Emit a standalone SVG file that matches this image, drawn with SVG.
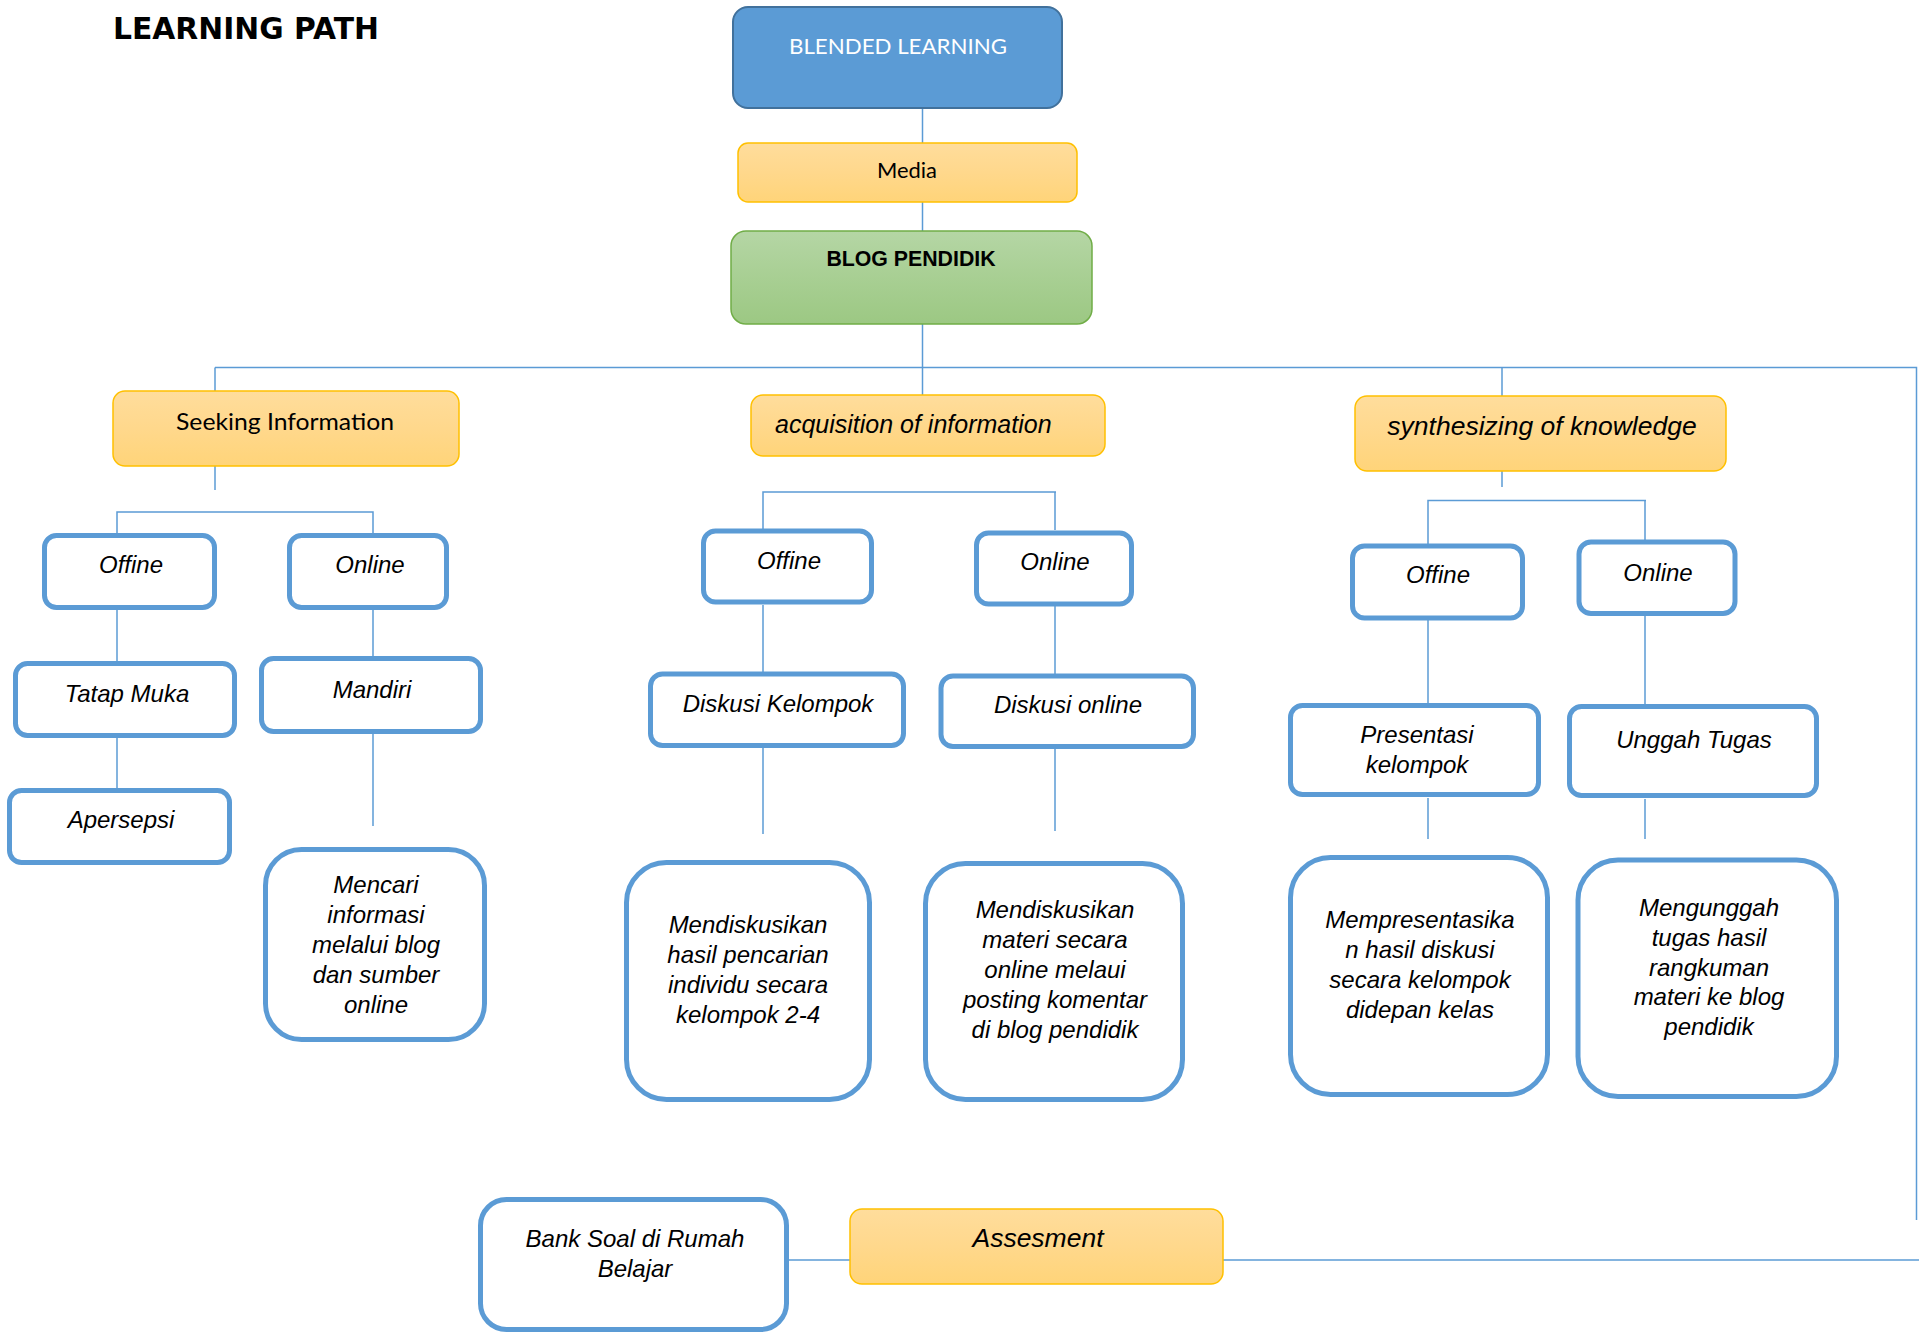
<svg xmlns="http://www.w3.org/2000/svg" width="1928" height="1333" viewBox="0 0 1928 1333">
<defs>
<linearGradient id="gOr" x1="0" y1="0" x2="0" y2="1">
<stop offset="0" stop-color="#FFDD9C"/>
<stop offset="0.5" stop-color="#FFD88C"/>
<stop offset="1" stop-color="#FFD479"/>
</linearGradient>
<linearGradient id="gGr" x1="0" y1="0" x2="0" y2="1">
<stop offset="0" stop-color="#B5D6A5"/>
<stop offset="0.5" stop-color="#A8CF93"/>
<stop offset="1" stop-color="#9CC883"/>
</linearGradient>
<style>
.conn{fill:none;stroke:#5B9BD5;stroke-width:1.5}
.bx{fill:#FFFFFF;stroke:#5B9BD5;stroke-width:5}
.or{fill:url(#gOr);stroke:#FFC000;stroke-width:1.5}
.it{font-family:"Liberation Sans",Arial,sans-serif;font-style:italic;font-size:24px;fill:#000;text-anchor:middle}
.cal{font-family:Lato,"Open Sans",sans-serif;fill:#000;text-anchor:middle}
</style>
</defs>
<rect width="1928" height="1333" fill="#FFFFFF"/>
<text x="113" y="38.5" font-family="'DejaVu Sans',Verdana,sans-serif" font-weight="bold" font-size="30" fill="#000" textLength="266" lengthAdjust="spacingAndGlyphs">LEARNING PATH</text>
<g id="connectors">
<path class="conn" d="M922.5,108 V143"/>
<path class="conn" d="M922.5,202 V231"/>
<path class="conn" d="M922.5,324 V367.5"/>
<path class="conn" d="M215,367.5 H1916.5 V1220"/>
<path class="conn" d="M215,367.5 V391"/>
<path class="conn" d="M922.5,367.5 V395"/>
<path class="conn" d="M1502,367.5 V396"/>
<path class="conn" d="M215,466 V490"/>
<path class="conn" d="M117,533 V512 H373 V533"/>
<path class="conn" d="M117,610 V661"/>
<path class="conn" d="M117,738 V788"/>
<path class="conn" d="M373,610 V656"/>
<path class="conn" d="M373,734 V826"/>
<path class="conn" d="M763,529 V492 H1056 M1055,492 V530"/>
<path class="conn" d="M763,605 V672"/>
<path class="conn" d="M763,748 V834"/>
<path class="conn" d="M1055,606 V674"/>
<path class="conn" d="M1055,749 V831"/>
<path class="conn" d="M1502,471 V487"/>
<path class="conn" d="M1428,545 V500.5 H1646 M1645,500.5 V541"/>
<path class="conn" d="M1428,620 V705"/>
<path class="conn" d="M1428,798 V839"/>
<path class="conn" d="M1645,616 V706"/>
<path class="conn" d="M1645,799 V839"/>
<path class="conn" d="M789,1260 H1919"/>
</g>
<g id="blended-learning">
<rect x="733" y="7" width="329" height="101" rx="15" fill="#5B9BD5" stroke="#41719C" stroke-width="2"/>
<text class="cal" x="898" y="54" font-size="22" fill="#FFFFFF" style="fill:#FFFFFF" textLength="218" lengthAdjust="spacingAndGlyphs">BLENDED LEARNING</text>
</g>
<g id="media">
<rect class="or" x="738" y="143" width="339" height="59" rx="10"/>
<text class="cal" x="907" y="178" font-size="22" textLength="60" lengthAdjust="spacingAndGlyphs">Media</text>
</g>
<g id="blog-pendidik">
<rect x="731" y="231" width="361" height="93" rx="15" fill="url(#gGr)" stroke="#70AD47" stroke-width="1.5"/>
<text x="911" y="266" font-family="'Liberation Sans',Arial,sans-serif" font-weight="bold" font-size="21.3" text-anchor="middle" fill="#000">BLOG PENDIDIK</text>
</g>
<g id="seeking-information">
<rect class="or" x="113" y="391" width="346" height="75" rx="12"/>
<text class="cal" x="285" y="430" font-size="24" textLength="218" lengthAdjust="spacingAndGlyphs">Seeking Information</text>
</g>
<g id="acquisition-of-information">
<rect class="or" x="751" y="395" width="354" height="61" rx="12"/>
<text class="it" x="775" y="433" font-size="25" style="font-size:25px;text-anchor:start">acquisition of information</text>
</g>
<g id="synthesizing-of-knowledge">
<rect class="or" x="1355" y="396" width="371" height="75" rx="12"/>
<text class="it" x="1542" y="435" style="font-size:26.5px">synthesizing of knowledge</text>
</g>
<g id="offline-1">
<rect class="bx" x="44.5" y="535.5" width="170" height="72" rx="12"/>
<text class="it" x="131" y="573">Offine</text>
</g>
<g id="online-1">
<rect class="bx" x="289.5" y="535.5" width="157" height="72" rx="12"/>
<text class="it" x="370" y="573">Online</text>
</g>
<g id="tatap-muka">
<rect class="bx" x="15.5" y="663.5" width="219" height="72" rx="12"/>
<text class="it" x="127" y="702">Tatap Muka</text>
</g>
<g id="apersepsi">
<rect class="bx" x="9.5" y="790.5" width="220" height="72" rx="12"/>
<text class="it" x="121" y="828">Apersepsi</text>
</g>
<g id="mandiri">
<rect class="bx" x="261.5" y="658.5" width="219" height="73" rx="12"/>
<text class="it" x="372" y="698">Mandiri</text>
</g>
<g id="mencari-informasi">
<rect class="bx" x="265.5" y="849.5" width="219" height="190" rx="36"/>
<text class="it" x="376" y="893">Mencari</text>
<text class="it" x="376" y="923">informasi</text>
<text class="it" x="376" y="953">melalui blog</text>
<text class="it" x="376" y="983">dan sumber</text>
<text class="it" x="376" y="1013">online</text>
</g>
<g id="offline-2">
<rect class="bx" x="703.5" y="531" width="168" height="71" rx="12"/>
<text class="it" x="789" y="569">Offine</text>
</g>
<g id="online-2">
<rect class="bx" x="976.5" y="533" width="155" height="71" rx="12"/>
<text class="it" x="1055" y="570">Online</text>
</g>
<g id="diskusi-kelompok">
<rect class="bx" x="650.5" y="674" width="253" height="71.5" rx="12"/>
<text class="it" x="778" y="712">Diskusi Kelompok</text>
</g>
<g id="diskusi-online">
<rect class="bx" x="941" y="676" width="252.5" height="70.5" rx="12"/>
<text class="it" x="1068" y="713">Diskusi online</text>
</g>
<g id="mendiskusikan-hasil">
<rect class="bx" x="626.5" y="862.5" width="243" height="237" rx="40"/>
<text class="it" x="748" y="933">Mendiskusikan</text>
<text class="it" x="748" y="963">hasil pencarian</text>
<text class="it" x="748" y="993">individu secara</text>
<text class="it" x="748" y="1023">kelompok 2-4</text>
</g>
<g id="mendiskusikan-materi">
<rect class="bx" x="925.5" y="863.5" width="257" height="236" rx="40"/>
<text class="it" x="1055" y="918">Mendiskusikan</text>
<text class="it" x="1055" y="948">materi secara</text>
<text class="it" x="1055" y="978">online melaui</text>
<text class="it" x="1055" y="1008">posting komentar</text>
<text class="it" x="1055" y="1038">di blog pendidik</text>
</g>
<g id="offline-3">
<rect class="bx" x="1352.5" y="546" width="170" height="72" rx="12"/>
<text class="it" x="1438" y="583">Offine</text>
</g>
<g id="online-3">
<rect class="bx" x="1579" y="542" width="156" height="71.5" rx="12"/>
<text class="it" x="1658" y="581">Online</text>
</g>
<g id="presentasi-kelompok">
<rect class="bx" x="1290.5" y="705.5" width="248" height="89" rx="12"/>
<text class="it" x="1417" y="743">Presentasi</text>
<text class="it" x="1417" y="773">kelompok</text>
</g>
<g id="unggah-tugas">
<rect class="bx" x="1569.5" y="706.5" width="247" height="89" rx="12"/>
<text class="it" x="1694" y="748">Unggah Tugas</text>
</g>
<g id="mempresentasikan">
<rect class="bx" x="1290.5" y="857.5" width="257" height="237" rx="40"/>
<text class="it" x="1420" y="928">Mempresentasika</text>
<text class="it" x="1420" y="958">n hasil diskusi</text>
<text class="it" x="1420" y="988">secara kelompok</text>
<text class="it" x="1420" y="1018">didepan kelas</text>
</g>
<g id="mengunggah-tugas">
<rect class="bx" x="1578" y="860" width="258.5" height="236.5" rx="40"/>
<text class="it" x="1709" y="916">Mengunggah</text>
<text class="it" x="1709" y="946">tugas hasil</text>
<text class="it" x="1709" y="976">rangkuman</text>
<text class="it" x="1709" y="1005">materi ke blog</text>
<text class="it" x="1709" y="1035">pendidik</text>
</g>
<g id="bank-soal">
<rect class="bx" x="480.5" y="1199.5" width="306" height="130" rx="26"/>
<text class="it" x="635" y="1247">Bank Soal di Rumah</text>
<text class="it" x="635" y="1277">Belajar</text>
</g>
<g id="assesment">
<rect class="or" x="850" y="1209" width="373" height="75" rx="12"/>
<text class="it" x="1038" y="1247" style="font-size:26.5px">Assesment</text>
</g>
</svg>
